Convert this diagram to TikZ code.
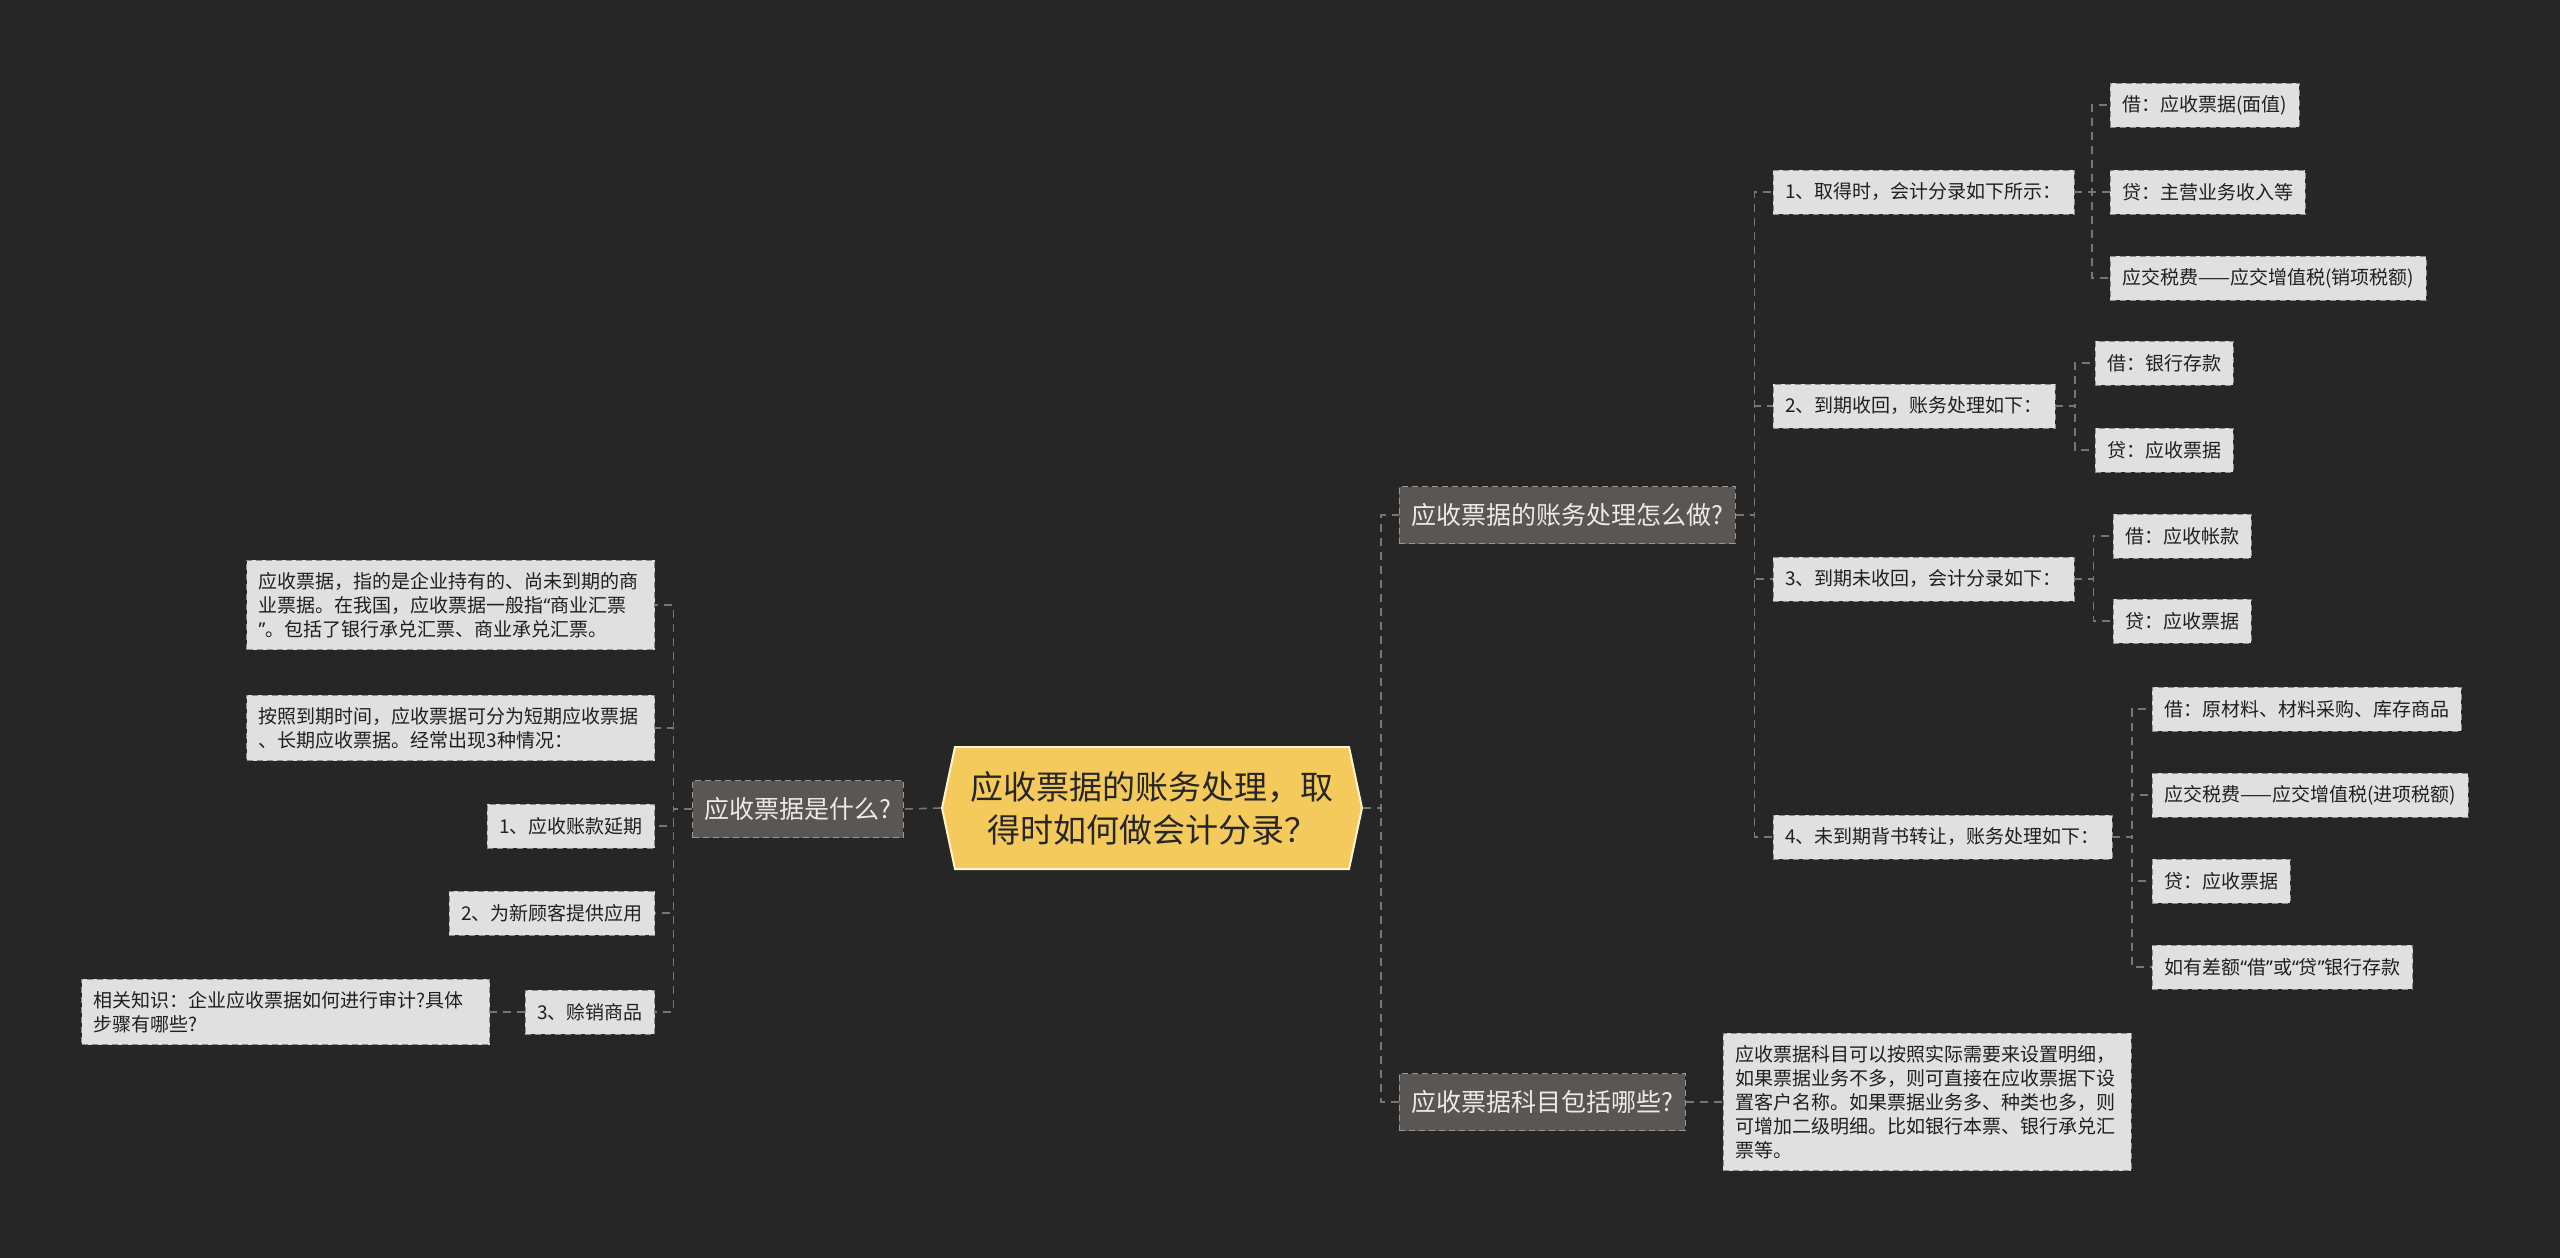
\documentclass[tikz,border=0pt]{standalone}
\usepackage{fontspec}
\setmainfont{Noto Sans CJK SC}
\newfontfamily\qfont{Noto Sans}
\newcommand{\quoteL}{{\qfont “}}
\newcommand{\quoteR}{{\qfont ”}}
\usetikzlibrary{shapes.symbols,calc}

\definecolor{bg}{HTML}{262626}
\definecolor{linkgray}{HTML}{767676}
\definecolor{leaffill}{HTML}{E0E0E0}
\definecolor{leafedge}{HTML}{8C8C8C}
\definecolor{topicfill}{HTML}{5A5654}
\definecolor{topicedge}{HTML}{9C9895}
\definecolor{rootfill}{HTML}{F5CA5C}
\definecolor{rootedge}{HTML}{FFF4CF}

\begin{document}
\begin{tikzpicture}[
    x=0.5pt, y=-0.5pt,
    link/.style={draw=linkgray, line width=0.8pt, dash pattern=on 4pt off 3pt},
    elbow/.style={to path={-- ($(\tikztostart)!.5!(\tikztostart -| \tikztotarget)$) |- (\tikztotarget)}},
    root/.style={signal, signal to=west and east, signal pointer angle=156,
        fill=rootfill, draw=rootedge, line width=1pt, minimum width=210pt,
        minimum height=61pt, align=center, text=black!85,
        font=\fontsize{16.5pt}{21.5pt}\selectfont},
    topic/.style={rectangle, fill=topicfill, draw=topicedge, dash pattern=on 3pt off 2pt,
        text=white!92!black, font=\fontsize{12.5pt}{15pt}\selectfont,
        inner xsep=6pt, minimum height=28.5pt},
    leaf/.style={rectangle, fill=leaffill, draw=leafedge, dash pattern=on 3pt off 2pt,
        text=black!88, font=\fontsize{9.5pt}{12pt}\selectfont,
        inner xsep=6pt, minimum height=22pt, align=left},
    note/.style={leaf, text width=192pt, inner ysep=6pt}
]
\useasboundingbox (0,0) rectangle (2560,1258);
\fill[bg] (0,0) rectangle (2560,1258);

% centre
\node[root] (root) at (1152,808) {应收票据的账务处理，取\\得时如何做会计分录？};

% left branch
\node[topic] (what) at (798,809) {应收票据是什么?};
\node[note, anchor=east] (def) at (655,605) {应收票据，指的是企业持有的、尚未到期的商\\业票据。在我国，应收票据一般指\quoteL 商业汇票\\\quoteR 。包括了银行承兑汇票、商业承兑汇票。};
\node[note, anchor=east] (term) at (655,728) {按照到期时间，应收票据可分为短期应收票据\\、长期应收票据。经常出现3种情况：};
\node[leaf, anchor=east] (case1) at (655,826) {1、应收账款延期};
\node[leaf, anchor=east] (case2) at (655,913) {2、为新顾客提供应用};
\node[leaf, anchor=east] (case3) at (655,1012) {3、赊销商品};
\node[note, anchor=east] (audit) at (490,1012) {相关知识：企业应收票据如何进行审计?具体\\步骤有哪些?};

% right branch
\node[topic, anchor=west] (howto) at (1399,515) {应收票据的账务处理怎么做?};
\node[topic, anchor=west] (items) at (1399,1102) {应收票据科目包括哪些?};

\node[leaf, anchor=west] (get) at (1773,192) {1、取得时，会计分录如下所示：};
\node[leaf, anchor=west] (due) at (1773,406) {2、到期收回，账务处理如下：};
\node[leaf, anchor=west] (unpaid) at (1773,579) {3、到期未收回，会计分录如下：};
\node[leaf, anchor=west] (endorse) at (1773,837) {4、未到期背书转让，账务处理如下：};

\node[leaf, anchor=west] (get1) at (2110,105) {借：应收票据(面值)};
\node[leaf, anchor=west] (get2) at (2110,192) {贷：主营业务收入等};
\node[leaf, anchor=west] (get3) at (2110,278) {应交税费——应交增值税(销项税额)};
\node[leaf, anchor=west] (due1) at (2095,363) {借：银行存款};
\node[leaf, anchor=west] (due2) at (2095,450) {贷：应收票据};
\node[leaf, anchor=west] (unpaid1) at (2113,536) {借：应收帐款};
\node[leaf, anchor=west] (unpaid2) at (2113,621) {贷：应收票据};
\node[leaf, anchor=west] (end1) at (2152,709) {借：原材料、材料采购、库存商品};
\node[leaf, anchor=west] (end2) at (2152,795) {应交税费——应交增值税(进项税额)};
\node[leaf, anchor=west] (end3) at (2152,881) {贷：应收票据};
\node[leaf, anchor=west] (end4) at (2152,967) {如有差额\quoteL 借\quoteR 或\quoteL 贷\quoteR 银行存款};

\node[note, anchor=west] (detail) at (1723,1102) {应收票据科目可以按照实际需要来设置明细，\\如果票据业务不多，则可直接在应收票据下设\\置客户名称。如果票据业务多、种类也多，则\\可增加二级明细。比如银行本票、银行承兑汇\\票等。};

% connectors
\draw[link] (root.west) -- (what.east);
\draw[link] (what.west) to[elbow] (def.east);
\draw[link] (what.west) to[elbow] (term.east);
\draw[link] (what.west) to[elbow] (case1.east);
\draw[link] (what.west) to[elbow] (case2.east);
\draw[link] (what.west) to[elbow] (case3.east);
\draw[link] (case3.west) -- (audit.east);

\draw[link] (root.east) to[elbow] (howto.west);
\draw[link] (root.east) to[elbow] (items.west);
\draw[link] (howto.east) to[elbow] (get.west);
\draw[link] (howto.east) to[elbow] (due.west);
\draw[link] (howto.east) to[elbow] (unpaid.west);
\draw[link] (howto.east) to[elbow] (endorse.west);
\draw[link] (get.east) to[elbow] (get1.west);
\draw[link] (get.east) to[elbow] (get2.west);
\draw[link] (get.east) to[elbow] (get3.west);
\draw[link] (due.east) to[elbow] (due1.west);
\draw[link] (due.east) to[elbow] (due2.west);
\draw[link] (unpaid.east) to[elbow] (unpaid1.west);
\draw[link] (unpaid.east) to[elbow] (unpaid2.west);
\draw[link] (endorse.east) to[elbow] (end1.west);
\draw[link] (endorse.east) to[elbow] (end2.west);
\draw[link] (endorse.east) to[elbow] (end3.west);
\draw[link] (endorse.east) to[elbow] (end4.west);
\draw[link] (items.east) -- (detail.west);
\end{tikzpicture}
\end{document}
